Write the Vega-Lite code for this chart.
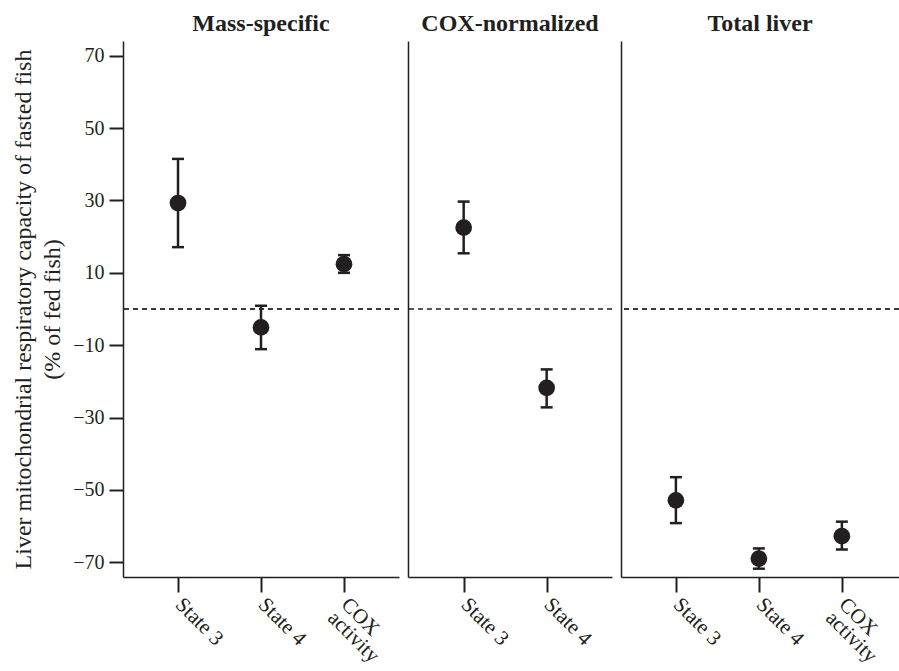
{
  "$schema": "https://vega.github.io/schema/vega-lite/v6.json",
  "padding": {"left": 11, "top": 12, "right": 0, "bottom": 0},
  "background": "white",
  "spacing": 9,
  "bounds": "flush",
  "datasets": {
    "pts": [
      {"panel": "Mass-specific", "measure": "State 3", "mean": 29.3, "lower": 17.1, "upper": 41.5},
      {"panel": "Mass-specific", "measure": "State 4", "mean": -5.1, "lower": -11.1, "upper": 0.9},
      {"panel": "Mass-specific", "measure": "COX activity", "mean": 12.4, "lower": 10.0, "upper": 14.9},
      {"panel": "COX-normalized", "measure": "State 3", "mean": 22.5, "lower": 15.4, "upper": 29.7},
      {"panel": "COX-normalized", "measure": "State 4", "mean": -21.8, "lower": -27.2, "upper": -16.7},
      {"panel": "Total liver", "measure": "State 3", "mean": -52.9, "lower": -59.2, "upper": -46.5},
      {"panel": "Total liver", "measure": "State 4", "mean": -69.0, "lower": -71.8, "upper": -66.2},
      {"panel": "Total liver", "measure": "COX activity", "mean": -62.8, "lower": -66.5, "upper": -58.8}
    ]
  },
  "config": {
    "font": "Liberation Serif",
    "view": {"stroke": null},
    "axis": {
      "grid": false,
      "domainColor": "#231f20",
      "domainWidth": 1.5,
      "tickColor": "#231f20",
      "tickWidth": 2,
      "labelColor": "#231f20",
      "labelFont": "Liberation Serif",
      "titleFont": "Liberation Serif",
      "titleColor": "#231f20"
    },
    "title": {"font": "Liberation Serif", "fontSize": 24, "fontWeight": "bold", "color": "#231f20", "offset": 5}
  },
  "resolve": {"scale": {"x": "independent", "y": "independent"}},
  "hconcat": [
    {
      "width": 276,
      "height": 536,
      "title": "Mass-specific",
      "data": {"name": "pts"},
      "transform": [{"filter": "datum.panel == 'Mass-specific'"}],
      "layer": [
        {
          "mark": {"type": "rule", "strokeDash": [5, 4], "strokeWidth": 1.2, "color": "#231f20"},
          "encoding": {"y": {"datum": 0, "type": "quantitative", "scale": {"domain": [-74.1, 74.1], "nice": false, "zero": false}}}
        },
        {
          "mark": {"type": "rule", "strokeWidth": 2.5, "color": "#231f20"},
          "encoding": {
            "x": {"field": "measure", "type": "nominal", "sort": ["State 3", "State 4", "COX activity"], "scale": {"type": "point", "padding": 0.663},
              "axis": {"title": null, "labelAngle": 45, "labelAlign": "left", "labelBaseline": "middle", "tickSize": 15, "labelPadding": 9, "labelFontSize": 21, "labelLineHeight": 19,
                "labelExpr": "datum.value == 'COX activity' ? ['COX', 'activity'] : datum.label"}},
            "y": {"field": "lower", "type": "quantitative", "scale": {"domain": [-74.1, 74.1], "nice": false, "zero": false},
              "axis": {"values": [-70, -50, -30, -10, 10, 30, 50, 70], "tickSize": 14, "labelPadding": 5, "labelFontSize": 20,
                "title": ["Liver mitochondrial respiratory capacity of fasted fish", "(% of fed fish)"], "titleFontSize": 24, "titleFontWeight": "normal", "titleLineHeight": 29, "titlePadding": 8}},
            "y2": {"field": "upper"}
          }
        },
        {
          "mark": {"type": "tick", "size": 12, "thickness": 2.5, "color": "#231f20", "opacity": 1},
          "encoding": {"x": {"field": "measure", "type": "nominal", "sort": ["State 3", "State 4", "COX activity"]}, "y": {"field": "lower", "type": "quantitative"}}
        },
        {
          "mark": {"type": "tick", "size": 12, "thickness": 2.5, "color": "#231f20", "opacity": 1},
          "encoding": {"x": {"field": "measure", "type": "nominal", "sort": ["State 3", "State 4", "COX activity"]}, "y": {"field": "upper", "type": "quantitative"}}
        },
        {
          "mark": {"type": "point", "filled": true, "size": 280, "color": "#231f20", "opacity": 1},
          "encoding": {"x": {"field": "measure", "type": "nominal", "sort": ["State 3", "State 4", "COX activity"]}, "y": {"field": "mean", "type": "quantitative"}}
        }
      ]
    },
    {
      "width": 204,
      "height": 536,
      "title": "COX-normalized",
      "data": {"name": "pts"},
      "transform": [{"filter": "datum.panel == 'COX-normalized'"}],
      "layer": [
        {
          "mark": {"type": "rule", "strokeDash": [5, 4], "strokeWidth": 1.2, "color": "#231f20"},
          "encoding": {"y": {"datum": 0, "type": "quantitative", "scale": {"domain": [-74.1, 74.1], "nice": false, "zero": false}}}
        },
        {
          "mark": {"type": "rule", "strokeWidth": 2.5, "color": "#231f20"},
          "encoding": {
            "x": {"field": "measure", "type": "nominal", "sort": ["State 3", "State 4"], "scale": {"type": "point", "padding": 0.729, "align": 0.46},
              "axis": {"title": null, "labelAngle": 45, "labelAlign": "left", "labelBaseline": "middle", "tickSize": 15, "labelPadding": 9, "labelFontSize": 21, "labelLineHeight": 19}},
            "y": {"field": "lower", "type": "quantitative", "scale": {"domain": [-74.1, 74.1], "nice": false, "zero": false},
              "axis": {"labels": false, "ticks": false, "title": null, "domain": true}},
            "y2": {"field": "upper"}
          }
        },
        {
          "mark": {"type": "tick", "size": 12, "thickness": 2.5, "color": "#231f20", "opacity": 1},
          "encoding": {"x": {"field": "measure", "type": "nominal", "sort": ["State 3", "State 4"]}, "y": {"field": "lower", "type": "quantitative"}}
        },
        {
          "mark": {"type": "tick", "size": 12, "thickness": 2.5, "color": "#231f20", "opacity": 1},
          "encoding": {"x": {"field": "measure", "type": "nominal", "sort": ["State 3", "State 4"]}, "y": {"field": "upper", "type": "quantitative"}}
        },
        {
          "mark": {"type": "point", "filled": true, "size": 280, "color": "#231f20", "opacity": 1},
          "encoding": {"x": {"field": "measure", "type": "nominal", "sort": ["State 3", "State 4"]}, "y": {"field": "mean", "type": "quantitative"}}
        }
      ]
    },
    {
      "width": 278,
      "height": 536,
      "title": "Total liver",
      "data": {"name": "pts"},
      "transform": [{"filter": "datum.panel == 'Total liver'"}],
      "layer": [
        {
          "mark": {"type": "rule", "strokeDash": [5, 4], "strokeWidth": 1.2, "color": "#231f20"},
          "encoding": {"y": {"datum": 0, "type": "quantitative", "scale": {"domain": [-74.1, 74.1], "nice": false, "zero": false}}}
        },
        {
          "mark": {"type": "rule", "strokeWidth": 2.5, "color": "#231f20"},
          "encoding": {
            "x": {"field": "measure", "type": "nominal", "sort": ["State 3", "State 4", "COX activity"], "scale": {"type": "point", "padding": 0.675, "align": 0.49},
              "axis": {"title": null, "labelAngle": 45, "labelAlign": "left", "labelBaseline": "middle", "tickSize": 15, "labelPadding": 9, "labelFontSize": 21, "labelLineHeight": 19,
                "labelExpr": "datum.value == 'COX activity' ? ['COX', 'activity'] : datum.label"}},
            "y": {"field": "lower", "type": "quantitative", "scale": {"domain": [-74.1, 74.1], "nice": false, "zero": false},
              "axis": {"labels": false, "ticks": false, "title": null, "domain": true}},
            "y2": {"field": "upper"}
          }
        },
        {
          "mark": {"type": "tick", "size": 12, "thickness": 2.5, "color": "#231f20", "opacity": 1},
          "encoding": {"x": {"field": "measure", "type": "nominal", "sort": ["State 3", "State 4", "COX activity"]}, "y": {"field": "lower", "type": "quantitative"}}
        },
        {
          "mark": {"type": "tick", "size": 12, "thickness": 2.5, "color": "#231f20", "opacity": 1},
          "encoding": {"x": {"field": "measure", "type": "nominal", "sort": ["State 3", "State 4", "COX activity"]}, "y": {"field": "upper", "type": "quantitative"}}
        },
        {
          "mark": {"type": "point", "filled": true, "size": 280, "color": "#231f20", "opacity": 1},
          "encoding": {"x": {"field": "measure", "type": "nominal", "sort": ["State 3", "State 4", "COX activity"]}, "y": {"field": "mean", "type": "quantitative"}}
        }
      ]
    }
  ]
}
